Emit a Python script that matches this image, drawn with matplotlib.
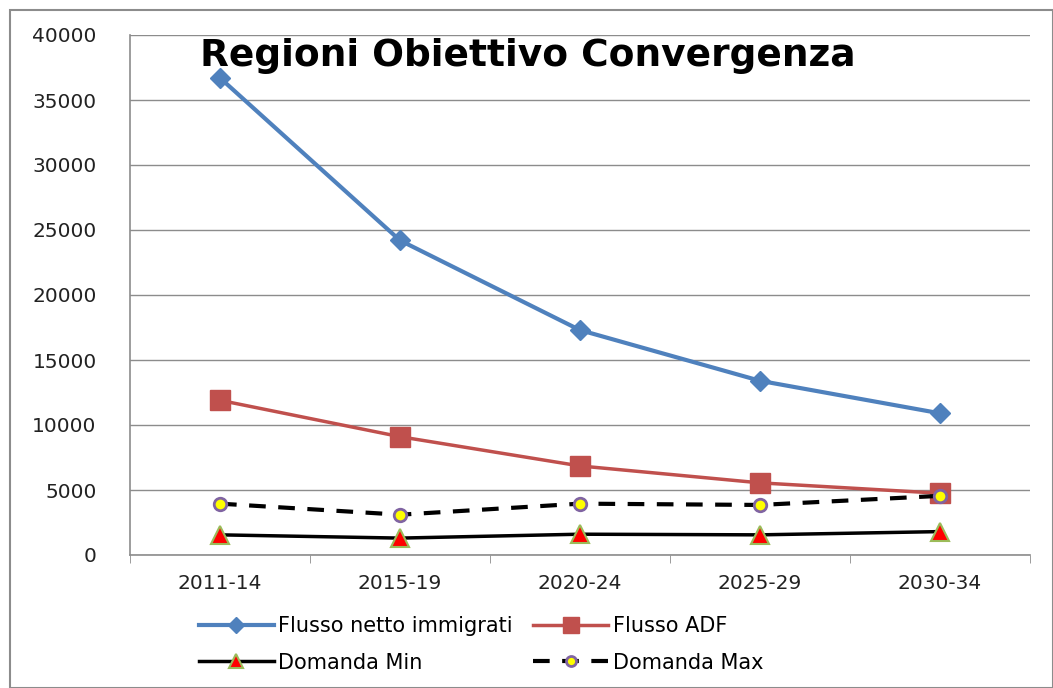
import matplotlib.pyplot as plt
import matplotlib.patches as mpatches
import numpy as np

periodi = ["2011-14", "2015-19", "2020-24", "2025-29", "2030-34"]
flusso_netto = [36700, 24200, 17300, 13400, 10900]
flusso_adf = [11900, 9100, 6850, 5550, 4750]
domanda_min = [1550, 1300, 1600, 1550, 1800]
domanda_max = [3950, 3100, 3950, 3850, 4550]

fig = plt.figure(figsize=(10.53, 6.88), dpi=100)
ax = fig.add_axes([130 / 1053, 1 - 555 / 688, 900 / 1053, 520 / 688])

# outer chart border
fig.patches.append(mpatches.Rectangle((10 / 1053, 0), 1 - 10 / 1053, 1 - 10 / 688,
                                      transform=fig.transFigure, fill=False,
                                      edgecolor="#8c8c8c", linewidth=1.5))

x = np.arange(len(periodi))
l1, = ax.plot(x, flusso_netto, color="#4F81BD", lw=3, marker="D", ms=10,
              label="Flusso netto immigrati")
l2, = ax.plot(x, flusso_adf, color="#C0504D", lw=2.5, marker="s", ms=14,
              label="Flusso ADF")
l3, = ax.plot(x, domanda_min, color="black", lw=2.5, marker="^", ms=13,
              markerfacecolor="red", markeredgecolor="#9BBB59", markeredgewidth=1.5,
              label="Domanda Min")
l4, = ax.plot(x, domanda_max, color="black", lw=3, ls=(0, (4, 3)), marker="o", ms=9,
              markerfacecolor="yellow", markeredgecolor="#8064A2", markeredgewidth=2,
              label="Domanda Max")

ax.set_xlim(-0.5, len(periodi) - 0.5)
ax.set_ylim(0, 40000)
ax.set_yticks(range(0, 40001, 5000))
ax.set_xticks(x)
ax.set_xticklabels(periodi)
ax.set_xticks(np.arange(-0.5, len(periodi), 1), minor=True)
ax.tick_params(axis="x", which="major", length=0, labelsize=14.5, pad=14, labelcolor="#222222")
ax.tick_params(axis="x", which="minor", length=6, color="#8c8c8c", direction="out")
ax.tick_params(axis="y", length=0, labelsize=14.5, pad=24, labelcolor="#222222")
ax.yaxis.grid(True, color="#8c8c8c", lw=1)
ax.set_axisbelow(True)
for s in ["top", "right"]:
    ax.spines[s].set_visible(False)
for s in ["left", "bottom"]:
    ax.spines[s].set_color("#8c8c8c")
    ax.spines[s].set_linewidth(1.2)

ax.text(0.078, 0.995, "Regioni Obiettivo Convergenza", transform=ax.transAxes,
        fontsize=27, fontweight="bold", va="top", ha="left")

fig.legend([l1, l3, l2, l4], [l1.get_label(), l3.get_label(), l2.get_label(), l4.get_label()],
           loc="lower left", bbox_to_anchor=(180 / 1053, -0.005), ncol=2, frameon=False,
           prop={"size": 15}, handlelength=3.6, handletextpad=0.2, markerscale=0.8,
           columnspacing=1.0, labelspacing=0.8)

fig.savefig("out.png", dpi=100)
